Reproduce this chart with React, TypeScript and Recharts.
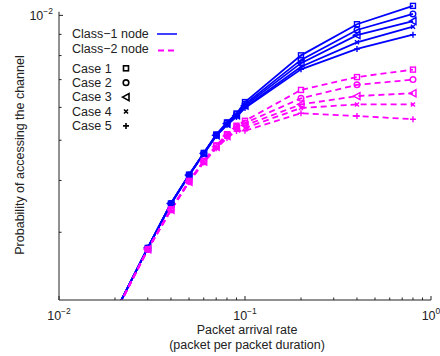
import { LineChart, Line, XAxis, YAxis, ReferenceLine } from "recharts";

// packet arrival rate (packet per packet duration)
const rates = [0.02, 0.03, 0.04, 0.05, 0.06, 0.07, 0.08, 0.09, 0.1, 0.2, 0.4, 0.8];

// probability of accessing the channel, in units of 1e-3
const class1Case1 = [1.92, 2.75, 3.52, 4.13, 4.66, 5.16, 5.52, 5.80, 6.18, 8.01, 9.52, 10.54];
const class1Case2 = [1.92, 2.75, 3.52, 4.12, 4.65, 5.15, 5.50, 5.77, 6.11, 7.81, 9.22, 10.08];
const class1Case3 = [1.92, 2.75, 3.52, 4.12, 4.65, 5.14, 5.48, 5.74, 6.06, 7.67, 8.96, 9.69];
const class1Case4 = [1.92, 2.75, 3.52, 4.12, 4.64, 5.13, 5.46, 5.71, 6.01, 7.52, 8.61, 9.39];
const class1Case5 = [1.92, 2.75, 3.51, 4.11, 4.63, 5.12, 5.44, 5.69, 5.98, 7.41, 8.30, 8.98];

const class2Case1 = [1.91, 2.73, 3.41, 3.99, 4.46, 4.86, 5.17, 5.42, 5.57, 6.61, 7.10, 7.40];
const class2Case2 = [1.91, 2.73, 3.40, 3.98, 4.45, 4.84, 5.14, 5.38, 5.50, 6.31, 6.80, 7.00];
const class2Case3 = [1.91, 2.73, 3.40, 3.97, 4.44, 4.82, 5.12, 5.34, 5.43, 6.10, 6.39, 6.49];
const class2Case4 = [1.91, 2.73, 3.40, 3.97, 4.43, 4.80, 5.09, 5.30, 5.35, 5.98, 6.10, 6.10];
const class2Case5 = [1.91, 2.72, 3.39, 3.96, 4.42, 4.78, 5.06, 5.26, 5.27, 5.81, 5.72, 5.62];

const xTicks = [0.01, 0.02, 0.03, 0.04, 0.05, 0.06, 0.07, 0.08, 0.09, 0.1, 0.2, 0.3, 0.4, 0.5, 0.6, 0.7, 0.8, 0.9, 1];
const yTicks = [0.003, 0.004, 0.005, 0.006, 0.007, 0.008, 0.009, 0.01];
const xMajor: Record<string, string> = { "0.01": "−2", "0.1": "−1", "1": "0" };
const yMajor: Record<string, string> = { "0.01": "−2" };

const caseNames = ["Case 1", "Case 2", "Case 3", "Case 4", "Case 5"];
const shapes = ["square", "circle", "triangle", "cross", "plus"];

const Y_MIN = 0.00206;
const Y_MAX = 0.01077;
const BLUE = "#0000ff";
const MAGENTA = "#ff00ff";
const FONT = "'Liberation Sans', Arial, sans-serif";

const series = [
  { key: "c1_1", vals: class1Case1, cls: 1, shape: 0 },
  { key: "c1_2", vals: class1Case2, cls: 1, shape: 1 },
  { key: "c1_3", vals: class1Case3, cls: 1, shape: 2 },
  { key: "c1_4", vals: class1Case4, cls: 1, shape: 3 },
  { key: "c1_5", vals: class1Case5, cls: 1, shape: 4 },
  { key: "c2_1", vals: class2Case1, cls: 2, shape: 0 },
  { key: "c2_2", vals: class2Case2, cls: 2, shape: 1 },
  { key: "c2_3", vals: class2Case3, cls: 2, shape: 2 },
  { key: "c2_4", vals: class2Case4, cls: 2, shape: 3 },
  { key: "c2_5", vals: class2Case5, cls: 2, shape: 4 },
];

const rows = rates.map((r, i) => {
  const row: Record<string, number> = { rate: r };
  for (const s of series) row[s.key] = s.vals[i] * 1e-3;
  return row;
});

function Marker({ shape, cx, cy, color, sw = 1.4 }: { shape: string; cx: number; cy: number; color: string; sw?: number }) {
  const p = { stroke: color, strokeWidth: sw, fill: "none" };
  switch (shape) {
    case "square":
      return <rect x={cx - 2.5} y={cy - 2.5} width={5} height={5} {...p} />;
    case "circle":
      return <circle cx={cx} cy={cy} r={2.8} {...p} />;
    case "triangle":
      return <polygon points={`${cx - 3.5},${cy} ${cx + 3},${cy - 3.5} ${cx + 3},${cy + 3.5}`} {...p} />;
    case "cross":
      return <path d={`M${cx - 2},${cy - 2}L${cx + 2},${cy + 2}M${cx - 2},${cy + 2}L${cx + 2},${cy - 2}`} {...p} />;
    default:
      return <path d={`M${cx - 3},${cy}L${cx + 3},${cy}M${cx},${cy - 3}L${cx},${cy + 3}`} {...p} />;
  }
}

function XTick(props: any) {
  const { x, y, payload } = props;
  const sup = xMajor[String(payload.value)];
  return (
    <g>
      <line x1={x} y1={y} x2={x} y2={y - (sup ? 4 : 2.5)} stroke="#222" />
      {sup && (
        <text x={x} y={y + 20} textAnchor="middle" fontFamily={FONT} fontSize={12.5} fill="#222">
          10<tspan dy={-6} fontSize={8.5}>{sup}</tspan>
        </text>
      )}
    </g>
  );
}

function YTick(props: any) {
  const { x, y, payload } = props;
  const sup = yMajor[String(payload.value)];
  return (
    <g>
      <line x1={x} y1={y} x2={x + (sup ? 4 : 2.5)} y2={y} stroke="#222" />
      {sup && (
        <text x={x - 6} y={y + 5} textAnchor="end" fontFamily={FONT} fontSize={12.5} fill="#222">
          10<tspan dy={-6} fontSize={8.5}>{sup}</tspan>
        </text>
      )}
    </g>
  );
}

export default function App() {
  return (
    <div style={{ position: "absolute", left: 0, top: 0, width: 440, height: 356, background: "#fff" }}>
      <LineChart width={440} height={356} data={rows} margin={{ top: 2, right: 9, bottom: 26, left: 9 }}>
        <XAxis dataKey="rate" type="number" scale="log" domain={[0.01, 1]} allowDataOverflow
               ticks={xTicks} interval={0} tick={<XTick />} tickLine={false} tickSize={0} tickMargin={0}
               height={30} axisLine={{ stroke: "#222" }} />
        <YAxis type="number" scale="log" domain={[Y_MIN, Y_MAX]} allowDataOverflow
               ticks={yTicks} interval={0} tick={<YTick />} tickLine={false} tickSize={0} tickMargin={0}
               width={50} axisLine={false} />
        <ReferenceLine segment={[{ x: 0.01, y: Y_MIN }, { x: 0.01, y: 0.0102 }]} stroke="#222" />
        {series.map((s) => {
          const color = s.cls === 1 ? BLUE : MAGENTA;
          return (
            <Line key={s.key} dataKey={s.key} stroke={color} strokeWidth={1.8}
                  strokeDasharray={s.cls === 2 ? "6 4" : undefined}
                  isAnimationActive={false} activeDot={false}
                  dot={(p: any) => {
                    if (p.value < Y_MIN || !isFinite(p.cx) || !isFinite(p.cy)) return <g key={p.key} />;
                    return <g key={p.key}><Marker shape={shapes[s.shape]} cx={p.cx} cy={p.cy} color={color} /></g>;
                  }} />
          );
        })}
      </LineChart>
      <svg width={440} height={356} style={{ position: "absolute", left: 0, top: 0, pointerEvents: "none" }}
           fontFamily={FONT} fontSize={12.5} fill="#222">
        <text x={72} y={38}>Class−1 node</text>
        <line x1={157} y1={34} x2={177} y2={34} stroke={BLUE} strokeWidth={1.5} />
        <text x={72} y={53}>Class−2 node</text>
        <line x1={158} y1={50.5} x2={178} y2={50.5} stroke={MAGENTA} strokeWidth={1.8} strokeDasharray="6 4" />
        {caseNames.map((c, i) => (
          <g key={c}>
            <text x={72} y={72.5 + i * 14.4}>{c}</text>
            <Marker shape={shapes[i]} cx={126} cy={68.3 + i * 14.4} color="#000" sw={1.6} />
          </g>
        ))}
        <text x={247} y={334} textAnchor="middle">Packet arrival rate</text>
        <text x={247} y={349} textAnchor="middle">(packet per packet duration)</text>
        <text x={0} y={0} textAnchor="middle" transform="translate(24,155) rotate(-90)">Probability of accessing the channel</text>
      </svg>
    </div>
  );
}
